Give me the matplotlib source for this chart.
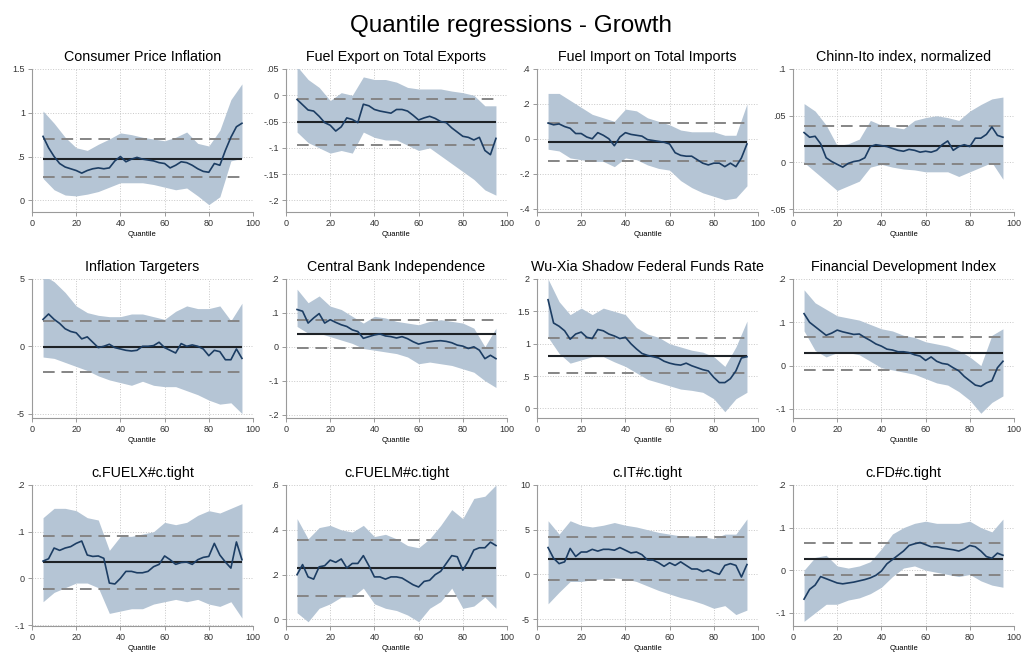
import matplotlib
matplotlib.use("Agg")
import matplotlib.pyplot as plt

plt.rcParams['font.family'] = ['Liberation Sans', 'DejaVu Sans']

# quantile grids (line read every 2.5, band every 5)
Q_EST = [5, 7.5, 10, 12.5, 15, 17.5, 20, 22.5, 25, 27.5,
         30, 32.5, 35, 37.5, 40, 42.5, 45, 47.5, 50, 52.5,
         55, 57.5, 60, 62.5, 65, 67.5, 70, 72.5, 75, 77.5,
         80, 82.5, 85, 87.5, 90, 92.5, 95]
Q_BAND = [5, 10, 15, 20, 25, 30, 35, 40, 45, 50,
          55, 60, 65, 70, 75, 80, 85, 90, 95]

titles = ["Consumer Price Inflation", "Fuel Export on Total Exports",
          "Fuel Import on Total Imports", "Chinn-Ito index, normalized",
          "Inflation Targeters", "Central Bank Independence",
          "Wu-Xia Shadow Federal Funds Rate", "Financial Development Index",
          "c.FUELX#c.tight", "c.FUELM#c.tight", "c.IT#c.tight", "c.FD#c.tight"]

# --- Consumer Price Inflation
cpi_est = [0.73, 0.60, 0.50, 0.42, 0.38, 0.36, 0.34, 0.31, 0.34, 0.36,
           0.37, 0.36, 0.37, 0.45, 0.50, 0.44, 0.47, 0.49, 0.47, 0.46,
           0.45, 0.43, 0.42, 0.37, 0.40, 0.44, 0.43, 0.40, 0.36, 0.33,
           0.32, 0.42, 0.40, 0.57, 0.72, 0.84, 0.88]
cpi_lo = [0.25, 0.12, 0.06, 0.05, 0.07, 0.10, 0.15, 0.20, 0.20, 0.20,
          0.18, 0.15, 0.12, 0.14, 0.05, -0.05, 0.04, 0.45, 0.48]
cpi_hi = [1.02, 0.88, 0.72, 0.60, 0.57, 0.64, 0.70, 0.77, 0.75, 0.72,
          0.70, 0.68, 0.72, 0.78, 0.65, 0.62, 0.80, 1.15, 1.33]
cpi_ols = [0.475, 0.265, 0.695]

# --- Fuel Export on Total Exports
fx_est = [-0.008, -0.018, -0.028, -0.030, -0.040, -0.052, -0.057, -0.068, -0.060, -0.043,
          -0.046, -0.052, -0.017, -0.020, -0.027, -0.030, -0.032, -0.034, -0.027, -0.027,
          -0.030, -0.038, -0.047, -0.043, -0.040, -0.044, -0.050, -0.052, -0.062, -0.070,
          -0.078, -0.080, -0.085, -0.080, -0.105, -0.113, -0.082]
fx_lo = [-0.07, -0.09, -0.10, -0.11, -0.105, -0.11, -0.07, -0.08, -0.085, -0.085,
         -0.095, -0.105, -0.10, -0.115, -0.13, -0.145, -0.16, -0.18, -0.19]
fx_hi = [0.055, 0.03, 0.015, -0.01, 0.005, 0.0, 0.035, 0.03, 0.03, 0.025,
         0.015, 0.012, 0.012, 0.012, 0.008, 0.005, 0.0, -0.02, -0.02]
fx_ols = [-0.05, -0.095, -0.007]

# --- Fuel Import on Total Imports
fm_est = [0.09, 0.08, 0.085, 0.07, 0.06, 0.03, 0.03, 0.01, 0.00, 0.035,
          0.02, 0.00, -0.04, 0.01, 0.035, 0.025, 0.02, 0.015, -0.005, -0.01,
          -0.015, -0.02, -0.03, -0.08, -0.095, -0.10, -0.10, -0.12, -0.14, -0.15,
          -0.14, -0.14, -0.16, -0.14, -0.16, -0.11, -0.03]
fm_lo = [-0.06, -0.07, -0.11, -0.12, -0.13, -0.13, -0.16, -0.11, -0.12, -0.15,
         -0.17, -0.18, -0.24, -0.28, -0.31, -0.33, -0.35, -0.34, -0.27]
fm_hi = [0.26, 0.26, 0.22, 0.18, 0.14, 0.12, 0.10, 0.17, 0.16, 0.12,
         0.10, 0.08, 0.05, 0.04, 0.04, 0.04, 0.02, 0.02, 0.20]
fm_ols = [-0.02, -0.128, 0.09]

# --- Chinn-Ito index
ci_est = [0.032, 0.027, 0.028, 0.020, 0.005, 0.001, -0.002, -0.005, -0.001, 0.001,
          0.002, 0.005, 0.017, 0.019, 0.018, 0.017, 0.015, 0.013, 0.012, 0.014,
          0.013, 0.011, 0.012, 0.011, 0.013, 0.019, 0.023, 0.013, 0.017, 0.019,
          0.017, 0.026, 0.026, 0.030, 0.038, 0.029, 0.027]
ci_lo = [0.0, -0.01, -0.02, -0.03, -0.025, -0.02, -0.005, -0.002, -0.005, -0.007,
         -0.008, -0.01, -0.01, -0.01, -0.015, -0.01, -0.005, 0.0, -0.018]
ci_hi = [0.063, 0.055, 0.04, 0.018, 0.02, 0.025, 0.045, 0.04, 0.038, 0.036,
         0.045, 0.048, 0.05, 0.048, 0.045, 0.055, 0.062, 0.068, 0.07]
ci_ols = [0.018, -0.002, 0.039]

# --- Inflation Targeters
it_est = [2.0, 2.4, 2.0, 1.7, 1.3, 1.1, 1.0, 0.55, 0.7, 0.3,
          -0.1, 0.0, 0.15, -0.1, -0.2, -0.3, -0.35, -0.3, 0.0, 0.0,
          0.05, 0.3, -0.1, -0.3, -0.5, 0.2, 0.0, 0.1, 0.0, -0.2,
          -0.7, -0.3, -0.4, -1.0, -1.0, -0.2, -0.9]
it_lo = [-0.8, -0.9, -1.2, -1.5, -1.8, -2.2, -2.5, -2.7, -2.9, -2.6,
         -2.9, -3.0, -3.0, -3.3, -3.6, -4.0, -4.3, -4.2, -5.0]
it_hi = [5.3, 4.8, 4.0, 3.0, 2.5, 2.3, 2.2, 2.2, 2.4, 2.4,
         2.2, 2.0, 2.6, 3.0, 2.8, 2.8, 3.0, 1.9, 3.2]
it_ols = [-0.05, -1.9, 1.87]

# --- Central Bank Independence
cbi_est = [0.11, 0.105, 0.07, 0.085, 0.098, 0.07, 0.08, 0.072, 0.065, 0.06,
           0.05, 0.045, 0.025, 0.03, 0.035, 0.038, 0.032, 0.030, 0.026, 0.030,
           0.024, 0.015, 0.008, 0.012, 0.015, 0.017, 0.018, 0.016, 0.012, 0.005,
           0.002, -0.005, 0.0, -0.01, -0.035, -0.025, -0.035]
cbi_lo = [0.06, 0.04, 0.04, 0.03, 0.02, 0.01, -0.005, -0.01, -0.015, -0.02,
          -0.03, -0.05, -0.045, -0.05, -0.055, -0.065, -0.075, -0.10, -0.12]
cbi_hi = [0.17, 0.13, 0.15, 0.12, 0.11, 0.09, 0.07, 0.09, 0.085, 0.075,
          0.07, 0.065, 0.075, 0.08, 0.075, 0.07, 0.055, 0.0, 0.055]
cbi_ols = [0.037, -0.003, 0.078]

# --- Wu-Xia Shadow Federal Funds Rate
wx_est = [1.68, 1.32, 1.27, 1.20, 1.07, 1.15, 1.18, 1.10, 1.08, 1.22,
          1.20, 1.15, 1.12, 1.08, 1.10, 1.00, 0.92, 0.85, 0.82, 0.80,
          0.78, 0.73, 0.70, 0.68, 0.67, 0.70, 0.66, 0.63, 0.60, 0.58,
          0.48, 0.40, 0.40, 0.46, 0.58, 0.78, 0.80]
wx_lo = [1.1, 0.85, 0.70, 0.75, 0.80, 0.80, 0.72, 0.65, 0.55, 0.45,
         0.40, 0.35, 0.30, 0.28, 0.25, 0.15, -0.05, 0.15, 0.25]
wx_hi = [2.0, 1.65, 1.45, 1.55, 1.45, 1.55, 1.50, 1.45, 1.25, 1.15,
         1.10, 1.00, 0.95, 0.90, 0.87, 0.80, 0.65, 0.95, 1.35]
wx_ols = [0.81, 0.55, 1.09]

# --- Financial Development Index
fd_est = [0.12, 0.10, 0.09, 0.08, 0.07, 0.075, 0.082, 0.078, 0.075, 0.072,
          0.073, 0.065, 0.058, 0.050, 0.045, 0.038, 0.036, 0.032, 0.032, 0.030,
          0.025, 0.022, 0.012, 0.020, 0.010, 0.005, 0.003, -0.005, -0.012, -0.025,
          -0.035, -0.045, -0.048, -0.040, -0.035, -0.005, 0.010]
fd_lo = [0.08, 0.035, 0.02, 0.03, 0.03, 0.025, 0.01, -0.005, -0.01, -0.015,
         -0.02, -0.03, -0.04, -0.045, -0.06, -0.08, -0.11, -0.085, -0.07]
fd_hi = [0.175, 0.145, 0.13, 0.115, 0.11, 0.105, 0.095, 0.085, 0.08, 0.07,
         0.065, 0.055, 0.05, 0.045, 0.035, 0.02, 0.0, 0.07, 0.085]
fd_ols = [0.029, -0.009, 0.066]

# --- c.FUELX#c.tight
fxt_est = [0.037, 0.042, 0.065, 0.060, 0.065, 0.068, 0.075, 0.080, 0.050, 0.047,
           0.048, 0.043, -0.010, -0.012, 0.000, 0.015, 0.015, 0.012, 0.012, 0.015,
           0.025, 0.030, 0.048, 0.040, 0.030, 0.034, 0.035, 0.030, 0.040, 0.045,
           0.047, 0.075, 0.050, 0.035, 0.022, 0.078, 0.040]
fxt_lo = [-0.05, -0.03, -0.02, -0.01, -0.01, -0.02, -0.075, -0.07, -0.065, -0.065,
          -0.055, -0.05, -0.045, -0.05, -0.045, -0.055, -0.06, -0.05, -0.085]
fxt_hi = [0.13, 0.15, 0.15, 0.145, 0.13, 0.125, 0.06, 0.09, 0.09, 0.095,
          0.10, 0.12, 0.115, 0.12, 0.135, 0.145, 0.14, 0.15, 0.16]
fxt_ols = [0.035, -0.023, 0.091]

# --- c.FUELM#c.tight
fmt_est = [0.20, 0.245, 0.19, 0.18, 0.235, 0.24, 0.265, 0.255, 0.27, 0.23,
           0.25, 0.25, 0.285, 0.24, 0.19, 0.19, 0.18, 0.19, 0.19, 0.185,
           0.17, 0.155, 0.145, 0.17, 0.175, 0.20, 0.215, 0.25, 0.285, 0.28,
           0.22, 0.26, 0.31, 0.32, 0.32, 0.345, 0.33]
fmt_lo = [0.03, -0.01, 0.05, 0.07, 0.10, 0.10, 0.14, 0.07, 0.05, 0.04,
          0.02, -0.01, 0.05, 0.08, 0.14, 0.05, 0.06, 0.10, 0.05]
fmt_hi = [0.45, 0.36, 0.41, 0.42, 0.40, 0.39, 0.42, 0.37, 0.38, 0.36,
          0.33, 0.32, 0.36, 0.42, 0.49, 0.45, 0.54, 0.55, 0.60]
fmt_ols = [0.229, 0.104, 0.353]

# --- c.IT#c.tight
itt_est = [3.0, 1.8, 1.2, 1.4, 2.9, 2.0, 2.5, 2.5, 2.8, 2.6,
           2.8, 2.8, 2.7, 3.0, 2.7, 2.4, 2.5, 2.2, 1.6, 1.6,
           1.3, 0.9, 1.3, 1.0, 1.4, 1.0, 0.6, 0.6, 0.3, 0.5,
           0.2, 0.0, 1.0, 1.2, 1.0, -0.3, 1.1]
itt_lo = [-3.3, -2.0, -0.8, -0.8, -0.6, -0.5, -0.4, -0.5, -0.8, -1.3,
          -1.8, -2.2, -2.6, -2.9, -3.3, -3.8, -3.5, -4.5, -4.0]
itt_hi = [6.0, 4.5, 6.0, 5.5, 5.3, 5.5, 5.8, 5.5, 5.3, 5.0,
          4.7, 4.5, 4.3, 4.3, 4.2, 4.0, 4.5, 4.5, 6.2]
itt_ols = [1.74, -0.6, 4.15]

# --- c.FD#c.tight
fdt_est = [-0.068, -0.045, -0.035, -0.015, -0.020, -0.025, -0.030, -0.032, -0.030, -0.028,
           -0.025, -0.022, -0.018, -0.012, -0.002, 0.015, 0.025, 0.035, 0.045, 0.058,
           0.062, 0.065, 0.060, 0.055, 0.055, 0.052, 0.050, 0.048, 0.045, 0.050,
           0.058, 0.055, 0.045, 0.032, 0.028, 0.040, 0.035]
fdt_lo = [-0.12, -0.10, -0.08, -0.08, -0.07, -0.065, -0.055, -0.04, -0.015, 0.005,
          0.01, 0.0, -0.005, -0.01, -0.015, -0.01, -0.025, -0.035, -0.04]
fdt_hi = [0.0, 0.03, 0.035, 0.01, 0.005, 0.01, 0.02, 0.05, 0.085, 0.10,
          0.11, 0.115, 0.11, 0.11, 0.11, 0.115, 0.10, 0.09, 0.12]
fdt_ols = [0.027, -0.012, 0.065]

# y ticks and labels (Stata style)
yticks = [[0, .5, 1, 1.5], [-.2, -.15, -.1, -.05, 0, .05], [-.4, -.2, 0, .2, .4],
          [-.05, 0, .05, .1], [-5, 0, 5], [-.2, -.1, 0, .1, .2], [0, .5, 1, 1.5, 2],
          [-.1, 0, .1, .2], [-.1, 0, .1, .2], [0, .2, .4, .6], [-5, 0, 5, 10],
          [-.1, 0, .1, .2]]
ylabels = [["0", ".5", "1", "1.5"], ["-.2", "-.15", "-.1", "-.05", "0", ".05"],
           ["-.4", "-.2", "0", ".2", ".4"], ["-.05", "0", ".05", ".1"],
           ["-5", "0", "5"], ["-.2", "-.1", "0", ".1", ".2"],
           ["0", ".5", "1", "1.5", "2"], ["-.1", "0", ".1", ".2"],
           ["-.1", "0", ".1", ".2"], ["0", ".2", ".4", ".6"],
           ["-5", "0", "5", "10"], ["-.1", "0", ".1", ".2"]]
ybottom = [-0.134, -0.222, -0.42, -0.053, -5.33, -0.21, -0.147, -0.121,
           -0.102, -0.029, -5.78, -0.131]

ests = [cpi_est, fx_est, fm_est, ci_est, it_est, cbi_est, wx_est, fd_est,
        fxt_est, fmt_est, itt_est, fdt_est]
los = [cpi_lo, fx_lo, fm_lo, ci_lo, it_lo, cbi_lo, wx_lo, fd_lo,
       fxt_lo, fmt_lo, itt_lo, fdt_lo]
his = [cpi_hi, fx_hi, fm_hi, ci_hi, it_hi, cbi_hi, wx_hi, fd_hi,
       fxt_hi, fmt_hi, itt_hi, fdt_hi]
olss = [cpi_ols, fx_ols, fm_ols, ci_ols, it_ols, cbi_ols, wx_ols, fd_ols,
        fxt_ols, fmt_ols, itt_ols, fdt_ols]

W, H = 1022, 662
fig = plt.figure(figsize=(W / 100, H / 100), dpi=100)
fig.suptitle("Quantile regressions - Growth", fontsize=17.5, y=0.978)

col_left = [32, 286, 537, 793]
col_w = 221
rows = [(69, 212), (279, 418), (485, 626)]

band_c = "#b5c5d5"
line_c = "#1c3d63"
grid_c = "#c8c8c8"
axis_c = "#9a9a9a"

for i in range(12):
    r, c = divmod(i, 4)
    top, bot = rows[r]
    ax = fig.add_axes([col_left[c] / W, 1 - bot / H, col_w / W, (bot - top) / H])

    ax.fill_between(Q_BAND, los[i], his[i], color=band_c, lw=0, zorder=1)
    ols, ols_lo, ols_hi = olss[i]
    ax.hlines([ols_lo, ols_hi], 5, 95, colors="#858585", lw=1.4,
              linestyles=(0, (6, 3.5)), zorder=2)
    ax.hlines(ols, 5, 95, colors="#1e2226", lw=1.5, zorder=3)
    ax.plot(Q_EST, ests[i], color=line_c, lw=1.2, zorder=4)

    ax.set_xlim(0, 100)
    ax.set_ylim(ybottom[i], yticks[i][-1])
    ax.set_xticks([0, 20, 40, 60, 80, 100])
    ax.set_yticks(yticks[i])
    ax.set_yticklabels(ylabels[i])
    ax.tick_params(labelsize=6.5, colors=axis_c, labelcolor="#333333",
                   length=3, width=0.7, pad=2)
    ax.grid(True, color=grid_c, ls=":", lw=0.7)
    ax.set_axisbelow(True)
    for s in ["top", "right"]:
        ax.spines[s].set_visible(False)
    for s in ["left", "bottom"]:
        ax.spines[s].set_color(axis_c)
        ax.spines[s].set_linewidth(0.8)
    ax.set_title(titles[i], fontsize=10.3, pad=6)
    ax.set_xlabel("Quantile", fontsize=5.5, labelpad=2)

fig.savefig("out.png", dpi=100, facecolor="white")
